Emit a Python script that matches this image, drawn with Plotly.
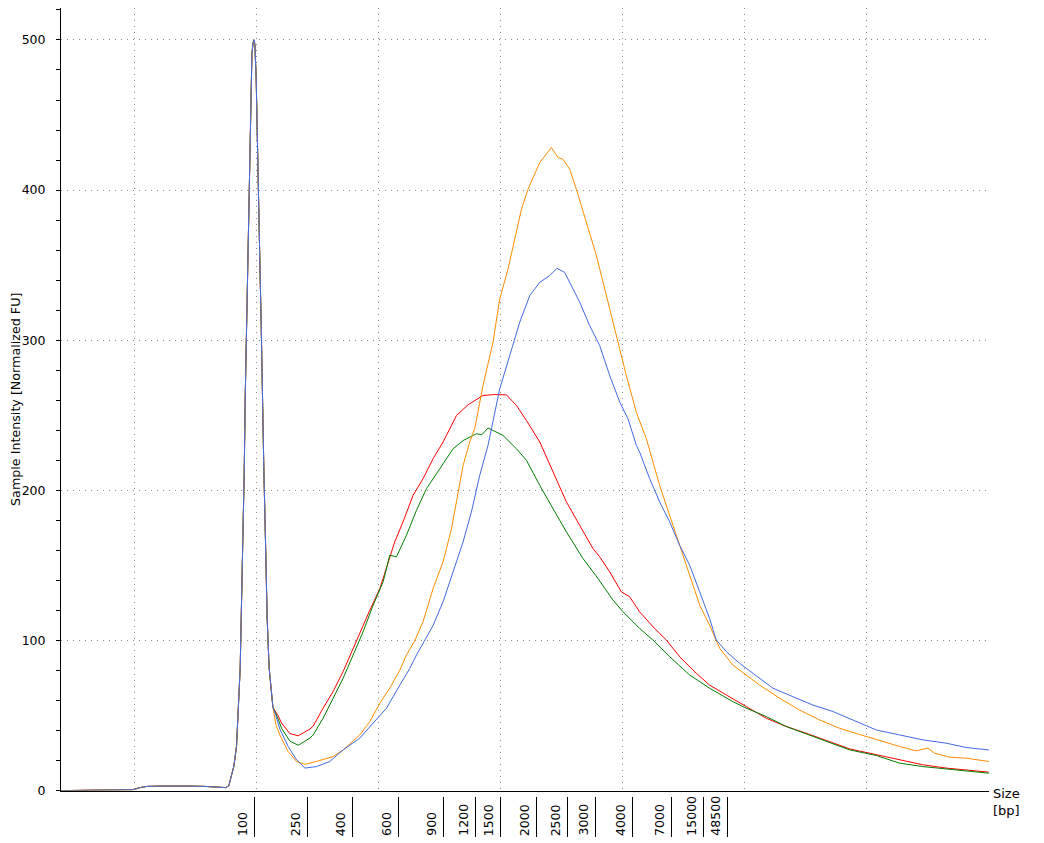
import plotly.graph_objects as go

# ---- data (x in migration units, y in normalized FU) ----
# shared lower-marker region (all samples normalized to the marker peak)
marker_x = [4.00, 8.01, 9.89, 10.47, 11.04, 12.10, 13.33, 14.56, 15.79, 16.61, 17.51,
            17.75, 17.94, 18.16, 18.38, 18.51, 18.68, 18.76, 18.90, 19.01, 19.09, 19.20,
            19.33, 19.42, 19.50, 19.58, 19.64, 19.73, 19.82, 19.88, 19.99, 20.07, 20.13,
            20.27, 20.40, 20.48, 20.62, 20.76, 20.89, 21.05, 21.22, 21.36]
marker_y = [0, 0.3, 0.6, 2.0, 2.8, 3.0, 3.2, 3.0, 2.8, 2.4, 2.0,
            3.3, 9.8, 16.3, 29.6, 49, 81.8, 114, 163.5, 212.6, 261.6, 310.6,
            360, 402, 441, 474, 490.5, 498, 500, 497, 474, 441, 409,
            360, 310.6, 261.6, 212.6, 163.5, 114.4, 81.8, 65.4, 55.5]

red_x = [21.77, 22.07, 22.75, 23.43, 24.39, 24.66, 25.47, 26.29, 27.11, 27.93, 28.75, 29.30,
         30.12, 30.66, 31.34, 32.02, 32.84, 33.66, 34.48, 35.30, 35.85, 36.40, 37.35, 38.57,
         39.53, 40.49, 41.31, 42.13, 43.22, 44.30, 45.40, 46.49, 47.58, 48.13, 48.95, 49.90,
         50.58, 51.40, 52.63, 53.59, 54.68, 56.05, 57.13, 58.50, 60.14, 61.78, 63.41, 65.05,
         68.60, 70.78, 72.69, 74.60, 76.51, 78.15, 80.00]
red_y = [50, 45, 38, 36.5, 41, 43, 54.9, 66, 79.3, 94.7, 110.2, 120.2,
         134.6, 148, 165.7, 179, 196.7, 207.8, 221.1, 232.2, 241, 249.9, 257, 263.2,
         263.8, 263.6, 256.5, 246.5, 232.2, 212.2, 192.3, 176.7, 161.2, 155.7, 145.7, 132.4,
         129.1, 119.1, 108, 100.3, 89.2, 78.1, 70.3, 63.7, 56, 48.2, 42.7, 38.2,
         27.8, 23.8, 20.5, 17.2, 15, 13.8, 12.3]

green_x = [21.77, 22.07, 22.75, 23.43, 24.39, 24.66, 25.47, 26.29, 27.11, 27.93, 28.75, 29.57,
           30.39, 30.93, 31.48, 32.30, 33.12, 33.94, 35.03, 36.12, 36.94, 38.03, 38.47, 38.98,
           39.39, 40.21, 41.31, 42.13, 43.22, 44.30, 45.40, 46.76, 47.99, 49.22, 50.04, 51.40,
           52.49, 53.86, 55.50, 57.13, 59.04, 60.14, 61.78, 63.41, 65.59,
           68.60, 70.78, 72.69, 74.60, 76.51, 78.15, 80.00]
green_y = [48, 41.5, 33, 30.2, 35, 37.1, 48.2, 61.5, 74.8, 90.3, 105.9, 123.5,
           139.1, 156.8, 155.7, 170.1, 186.7, 201.1, 214.4, 227.7, 233.2, 237.7, 237, 241.5,
           239.9, 236.6, 227.7, 220, 203.3, 187.8, 172.3, 154.6, 141.3, 126.9, 119.1, 108,
           100.3, 89.2, 77, 68.2, 59.3, 54.9, 49.3, 42.7, 36,
           27.1, 23.4, 18.3, 16, 14.5, 12.8, 11.6]

orange_x = [21.60, 21.93, 22.61, 23.30, 23.98, 24.93, 26.29, 27.11, 28.48, 29.30, 30.12, 30.93,
            31.76, 32.30, 32.98, 33.66, 34.48, 35.30, 35.99, 36.40, 36.94, 37.48, 37.89, 38.57,
            39.39, 39.94, 40.62, 41.17, 41.72, 42.26, 43.22, 44.17, 44.71, 45.12, 45.67, 46.22,
            47.04, 47.86, 48.68, 49.50, 50.31, 51.13, 51.95, 53.04, 53.86, 54.68, 55.50, 56.32,
            57.13, 57.96, 59.04, 60.14, 61.23, 62.87, 64.50, 66.14, 67.78, 68.60, 70.78, 72.69,
            74.06, 75.01, 75.56, 76.78, 78.15, 80.00]
orange_y = [44, 37, 26, 19.4, 17.5, 19.4, 22.7, 27.1, 37.1, 46, 58.2, 68.2,
            80.3, 90.3, 99.9, 112.5, 134.6, 152.4, 174.5, 192.3, 216.6, 232.2, 241, 269.8,
            298.7, 327.5, 347.4, 367.4, 387.3, 400.6, 418.4, 428.3, 421.7, 420.5, 413.9, 400.6,
            378.5, 356.3, 329.7, 303, 276.5, 252, 234.4, 203.3, 183.4, 163.4, 143.5, 123.5,
            110.2, 94.7, 83.6, 77, 70.3, 61.5, 53.7, 47.1, 41.5, 39.4, 33.8, 29.4,
            26.5, 28.3, 24.9, 22.3, 21.6, 19.4]

blue_x = [21.60, 21.93, 22.61, 23.30, 23.98, 24.93, 26.02, 27.11, 28.48, 29.85, 30.66, 31.76,
          32.57, 33.12, 33.80, 34.48, 35.30, 36.12, 36.94, 37.62, 38.30, 38.98, 39.94, 40.76,
          41.58, 42.40, 43.22, 44.03, 44.63, 45.26, 45.67, 46.49, 47.31, 48.13, 48.95, 49.77,
          50.45, 51.13, 51.40, 52.22, 53.04, 53.86, 54.68, 55.50, 56.32, 57.13, 57.68, 58.50,
          59.59, 60.68, 62.32, 63.95, 65.59, 67.23, 68.60, 70.78, 72.69, 74.60, 76.51, 78.15, 80.00]
blue_y = [50, 41, 29.4, 20.5, 15, 16, 19.4, 27.1, 35, 47.1, 54.9, 70.3,
          81.4, 90.3, 99.9, 110, 125.8, 145.7, 165.7, 185.6, 210, 230, 267.6, 289.8,
          312, 329.7, 338.6, 343, 347.9, 345.2, 338.6, 325.3, 309.7, 296.4, 276.5, 258.8,
          247.6, 230, 225.5, 207.8, 192.3, 179, 163.4, 150.1, 132.4, 114.7, 100.3, 92.6,
          84.8, 78.1, 68.2, 62.6, 57, 52.7, 48, 40.4, 37.1, 33.8, 31.6, 28.7, 27.1]

ladder_pos = [19.85, 24.21, 27.90, 31.64, 35.32, 37.93, 40.02, 42.97, 45.52, 47.75,
              50.82, 54.01, 56.61, 58.57]
ladder_labels = ["100", "250", "400", "600", "900", "1200", "1500", "2000", "2500",
                 "3000", "4000", "7000", "15000", "48500"]

series = [
    ("Sample 1", "#ff0000", red_x, red_y),
    ("Sample 2", "#008000", green_x, green_y),
    ("Sample 3", "#ff8c00", orange_x, orange_y),
    ("Sample 4", "#4169e1", blue_x, blue_y),
]

FONT = "DejaVu Sans"
GRID = "#8a8a8a"

fig = go.Figure()
for name, color, xs, ys in series:
    fig.add_trace(go.Scatter(
        x=marker_x + xs, y=marker_y + ys, mode="lines", name=name,
        line=dict(color=color, width=1), showlegend=False, hoverinfo="skip"))

# ladder ticks carrier (invisible) on the secondary x axis
fig.add_trace(go.Scatter(x=ladder_pos, y=[0] * len(ladder_pos), xaxis="x2", yaxis="y",
                         mode="markers", marker=dict(opacity=0), showlegend=False,
                         hoverinfo="skip"))

for pos, lab in zip(ladder_pos, ladder_labels):
    fig.add_annotation(x=pos, xref="x", y=-0.0024, yref="paper", text=lab,
                       textangle=-90, showarrow=False, xanchor="center",
                       yanchor="bottom", xshift=-11.5,
                       font=dict(family=FONT, size=12.5, color="#000"))

fig.add_annotation(x=80.02, xref="x", y=0, yref="y", text="Size<br>[bp]",
                   showarrow=False, xanchor="left", yanchor="top", align="left",
                   xshift=2, yshift=7, font=dict(family=FONT, size=13, color="#000"))

XR = [4, 80.02]
fig.update_layout(
    width=1036, height=835,
    margin=dict(l=53, r=54.7, t=0, b=5),
    plot_bgcolor="white", paper_bgcolor="white",
    font=dict(family=FONT, size=12.5, color="#000"),
    xaxis=dict(range=XR, tick0=0, dtick=10, showticklabels=False, ticks="",
               showgrid=True, gridcolor=GRID, griddash="1px,5px", gridwidth=1,
               showline=True, linecolor="black", linewidth=1, zeroline=False,
               anchor="y"),
    xaxis2=dict(range=XR, overlaying="x", anchor="free", position=0.04819,
                tickmode="array", tickvals=ladder_pos, ticks="outside", ticklen=40,
                tickcolor="black", tickwidth=1, showticklabels=False, showgrid=False,
                showline=False, zeroline=False),
    yaxis=dict(range=[0, 521.28], domain=[0.05482, 1], tick0=0, dtick=100,
               ticks="outside", ticklen=4, tickcolor="black", tickwidth=1,
               showgrid=True, gridcolor=GRID, griddash="1px,5px", gridwidth=1,
               showline=True, linecolor="black", linewidth=1, zeroline=False,
               ticklabelstandoff=8,
               minor=dict(dtick=20, ticks="outside", ticklen=4, tickcolor="black",
                          showgrid=False),
               title=dict(text="Sample Intensity [Normalized FU]", standoff=4,
                          font=dict(family=FONT, size=12.7, color="#000"))),
)

fig.write_html("out.html")
